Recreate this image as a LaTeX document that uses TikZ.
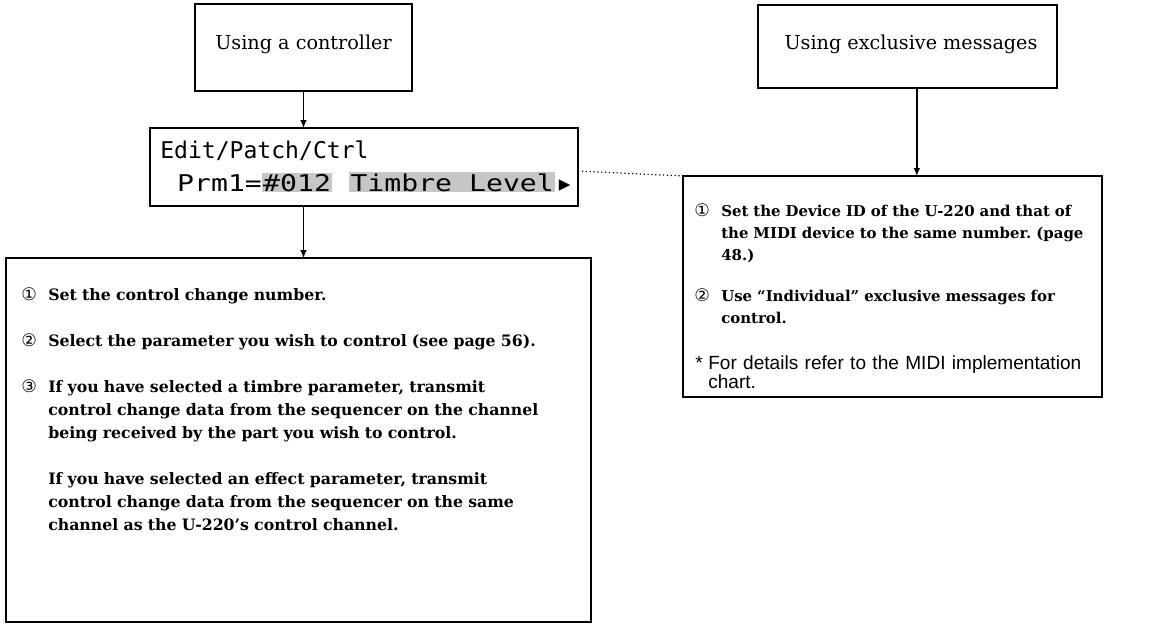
\documentclass[tikz,border=0pt]{standalone}
\usepackage{fontspec}
\usepackage{graphicx}
\usepackage{xcolor}
\setmainfont{DejaVu Serif}
\newfontfamily\titlefnt{DejaVu Serif}
\newfontfamily\bodyfnt{DejaVu Serif}
\newfontfamily\sansfnt{Liberation Sans}
\newfontfamily\lcdfnt{DejaVu Sans Mono}
\newfontfamily\circfnt{DejaVu Sans}
\usetikzlibrary{arrows.meta}
\frenchspacing
\tikzset{
  frame/.style={draw, line width=1.3pt, inner sep=0pt, outer sep=0pt},
  arr/.style={-{Latex[length=6pt,width=5pt]}, line width=1pt},
  dotconn/.style={dotted, line width=0.9pt},
  titletext/.style={font=\titlefnt\fontsize{14.4}{17}\selectfont, inner sep=0pt, anchor=base},
  circnum/.style={font=\circfnt\fontsize{13}{16}\selectfont, inner sep=0pt, anchor=base west},
  bodytxt/.style={font=\bodyfnt\bfseries\fontsize{11.8}{17.25}\selectfont\frenchspacing, inner sep=0pt, anchor=base west, text width=440pt, align=left},
  bodytxtr/.style={font=\bodyfnt\bfseries\fontsize{11.2}{16.5}\selectfont\frenchspacing, inner sep=0pt, anchor=base west, text width=300pt, align=left},
  sanstxt/.style={font=\sansfnt\fontsize{14.3}{14.8}\selectfont\frenchspacing, inner sep=0pt, anchor=base west, text width=320pt, align=left},
  lcdtxt/.style={font=\lcdfnt\fontsize{17.3}{20}\selectfont, inner sep=0pt, anchor=base west}
}
\setlength{\fboxsep}{0.8pt}
\begin{document}
\begin{tikzpicture}[x=0.75pt,y=-0.75pt]
\useasboundingbox (0,0) rectangle (1154,629);
\fill[white] (0,0) rectangle (1154,629);

% boxes
\node[frame, minimum width=162.75pt, minimum height=65.25pt] (tl) at (303.5,47.5) {};
\node[frame, minimum width=224.25pt, minimum height=62.25pt] (tr) at (907.5,46.5) {};
\node[frame, minimum width=321pt, minimum height=58.5pt] (lcd) at (364,167) {};
\node[frame, minimum width=438.75pt, minimum height=273pt] (bl) at (298.5,440) {};
\node[frame, minimum width=314.25pt, minimum height=165.75pt] (br) at (892.5,286.5) {};

% titles
\node[titletext] (tlt) at (303.5,49) {Using a controller};
\node[titletext] (trt) at (911,49) {Using exclusive messages};

% LCD text
\node[lcdtxt] (lcd1) at (160,158) {Edit/Patch/Ctrl};
\node[lcdtxt] (lcd2) at (160,191) {\scalebox{1.22}[1]{ Prm1=\colorbox{gray!45}{\#012} \colorbox{gray!45}{Timbre Level}}\,{\circfnt▸}};

% connectors
\draw[arr] (tl.south) -- (tl.south |- lcd.north);
\draw[arr] (lcd.south -| tl.south) -- (tl.south |- bl.north);
\draw[arr] ([xshift=7pt]tr.south) -- ([xshift=7pt]tr.south |- br.north);
\draw[dotconn] ([yshift=-3pt]lcd.east) -- (br.north west);

% left box text
\node[circnum] (n1) at (21,300) {①};
\node[bodytxt] (p1) at (48,300) {Set the control change number.};
\node[circnum] (n2) at (21,346) {②};
\node[bodytxt] (p2) at (48,346) {Select the parameter you wish to control (see page 56).};
\node[circnum] (n3) at (21,392) {③};
\node[bodytxt] (p3) at (48,392) {If you have selected a timbre parameter, transmit\\control change data from the sequencer on the channel\\being received by the part you wish to control.};
\node[bodytxt] (p4) at (48,484) {If you have selected an effect parameter, transmit\\control change data from the sequencer on the same\\channel as the U-220’s control channel.};

% right box text
\node[circnum] (n5) at (694,216) {①};
\node[bodytxtr] (p5) at (721,216) {Set the Device ID of the U-220 and that of\\the MIDI device to the same number. (page\\48.)};
\node[circnum] (n6) at (694,301) {②};
\node[bodytxtr] (p6) at (721,301) {Use “Individual” exclusive messages for\\control.};
\node[sanstxt] (n7) at (695,369) {*};
\node[sanstxt] (p7) at (708,369) {For details refer to the MIDI implementation\\chart.};
\end{tikzpicture}
\end{document}
